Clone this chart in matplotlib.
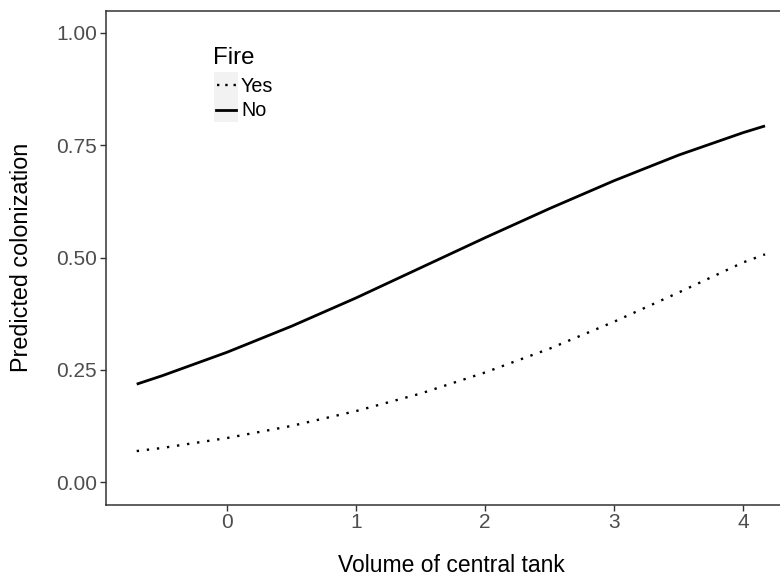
import matplotlib
matplotlib.use("Agg")
import matplotlib.pyplot as plt
from matplotlib.patches import Rectangle
from matplotlib.lines import Line2D

plt.rcParams['font.family'] = ['Liberation Sans', 'DejaVu Sans']

# Predicted colonization vs. central tank volume, by fire history
volume = [-0.7, -0.5, 0.0, 0.5, 1.0, 1.5, 2.0, 2.5, 3.0, 3.5, 4.0, 4.17]
pred_no_fire = [0.218, 0.237, 0.289, 0.347, 0.410, 0.477, 0.544, 0.609, 0.671, 0.728, 0.778, 0.793]
pred_fire = [0.069, 0.076, 0.098, 0.125, 0.158, 0.197, 0.244, 0.297, 0.357, 0.422, 0.489, 0.507]

x_ticks = [0, 1, 2, 3, 4]
y_ticks = [0.00, 0.25, 0.50, 0.75, 1.00]
y_ticklabels = ["0.00", "0.25", "0.50", "0.75", "1.00"]

W, H = 780, 579
fig = plt.figure(figsize=(W / 100, H / 100), dpi=100)

# panel in pixel coordinates (left, top, right, bottom)
pl, pt, pr, pb = 106, 10.5, 796, 504.5
ax = fig.add_axes([pl / W, 1 - pb / H, (pr - pl) / W, (pb - pt) / H])

dot_style = (0, (1, 3.3))
ax.plot(volume, pred_fire, color='black', lw=1.7, linestyle=dot_style)
ax.plot(volume, pred_no_fire, color='black', lw=2.0, solid_capstyle='butt')

ax.set_xlim(-0.938, 4.41)
ax.set_ylim(-0.05, 1.05)
ax.set_xticks(x_ticks)
ax.set_xticklabels([str(v) for v in x_ticks])
ax.set_yticks(y_ticks)
ax.set_yticklabels(y_ticklabels)

for s in ax.spines.values():
    s.set_color('#333333')
    s.set_linewidth(1.1)

ax.tick_params(axis='both', which='major', length=4.3, width=1.0, color='#333333',
               labelsize=15, labelcolor='#4D4D4D', pad=2)

ax.set_xlabel("Volume of central tank", fontsize=16.5, color='black', va='center')
ax.set_ylabel("Predicted colonization", fontsize=16.8, color='black', va='center')
ax.xaxis.set_label_coords(0.5, -(566 - pb) / (pb - pt))
ax.yaxis.set_label_coords(-(pl - 22) / (pr - pl), 0.5)


def fx(px):
    return px / W


def fy(py):
    return 1 - py / H


# legend for fire history
fig.text(fx(213), fy(58), "Fire", fontsize=17.3, ha='left', va='center', color='black')
key_boxes = [(214, 72, 238, 97), (214, 97.5, 238, 122.5)]
for (x0, y0, x1, y1) in key_boxes:
    fig.patches.append(Rectangle((fx(x0), fy(y1)), fx(x1) - fx(x0), fy(y0) - fy(y1),
                                 transform=fig.transFigure, facecolor='#F2F2F2',
                                 edgecolor='none', zorder=1))
fig.lines.append(Line2D([fx(217), fx(237)], [fy(85), fy(85)], transform=fig.transFigure,
                        color='black', lw=1.7, linestyle=(0, (1, 2.5)), zorder=2))
fig.lines.append(Line2D([fx(215.5), fx(236.5)], [fy(110), fy(110)], transform=fig.transFigure,
                        color='black', lw=2.0, zorder=2))
fig.text(fx(241), fy(86), "Yes", fontsize=14.2, ha='left', va='center', color='black')
fig.text(fx(241), fy(111), "No", fontsize=14.2, ha='left', va='center', color='black')

fig.savefig("out.png", dpi=100)
